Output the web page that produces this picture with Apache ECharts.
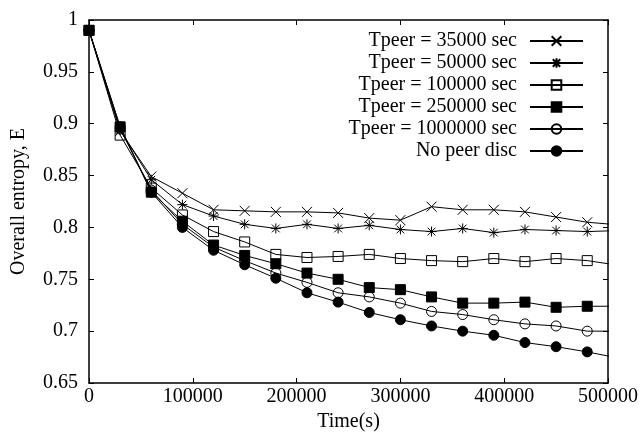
<!DOCTYPE html>
<html>
<head>
<meta charset="utf-8">
<script src="https://cdn.jsdelivr.net/npm/echarts@6/dist/echarts.min.js"></script>
<style>
  html, body { margin: 0; padding: 0; background: #fff; }
  #chart { width: 642px; height: 437px; }
</style>
</head>
<body>
<div id="chart"></div>
<script>
// Sample times (s); the last sample lies past the axis end and is clipped
const times = [0, 30000, 60000, 90000, 120000, 150000, 180000, 210000, 240000,
  270000, 300000, 330000, 360000, 390000, 420000, 450000, 480000, 510000];

const seriesNames = [
  'Tpeer = 35000 sec',
  'Tpeer = 50000 sec',
  'Tpeer = 100000 sec',
  'Tpeer = 250000 sec',
  'Tpeer = 1000000 sec',
  'No peer disc'
];

const tpeer35000 = [0.99, 0.893, 0.849, 0.833, 0.817, 0.816, 0.815, 0.815, 0.814,
  0.809, 0.807, 0.820, 0.817, 0.817, 0.815, 0.810, 0.805, 0.8025];
const tpeer50000 = [0.99, 0.894, 0.846, 0.822, 0.811, 0.803, 0.799, 0.803, 0.799,
  0.802, 0.798, 0.796, 0.799, 0.795, 0.798, 0.797, 0.796, 0.797];
const tpeer100000 = [0.99, 0.889, 0.838, 0.812, 0.796, 0.786, 0.774, 0.771, 0.772,
  0.774, 0.770, 0.768, 0.767, 0.770, 0.767, 0.770, 0.768, 0.7635];
const tpeer250000 = [0.99, 0.897, 0.834, 0.806, 0.783, 0.773, 0.765, 0.756, 0.750,
  0.742, 0.740, 0.733, 0.727, 0.727, 0.728, 0.723, 0.724, 0.724];
const tpeer1000000 = [0.99, 0.895, 0.836, 0.803, 0.781, 0.768, 0.756, 0.747, 0.737,
  0.733, 0.727, 0.719, 0.716, 0.711, 0.707, 0.705, 0.700, 0.700];
const noPeerDisc = [0.99, 0.897, 0.834, 0.800, 0.778, 0.764, 0.751, 0.737, 0.728,
  0.718, 0.711, 0.705, 0.700, 0.696, 0.689, 0.685, 0.680, 0.674];

const xTicks = [0, 100000, 200000, 300000, 400000, 500000];
const yTicks = [0.65, 0.7, 0.75, 0.8, 0.85, 0.9, 0.95, 1];

const FONT = '"Liberation Serif", "DejaVu Serif", "Times New Roman", serif';
const FONT_SIZE = 20;
const INK = '#000';

// Marker shapes (gnuplot-like point types)
const markers = [
  { symbol: 'path://M0,0L10,10M10,0L0,10', fill: 'transparent' },                       // x
  { symbol: 'path://M0,0L10,10M10,0L0,10M5,-1.5L5,11.5M-1.5,5L11.5,5', fill: 'transparent' }, // asterisk
  { symbol: 'rect', fill: 'transparent' },                                              // open square
  { symbol: 'rect', fill: INK },                                                        // filled square
  { symbol: 'circle', fill: 'transparent' },                                            // open circle
  { symbol: 'circle', fill: INK }                                                       // filled circle
];

const values = [tpeer35000, tpeer50000, tpeer100000, tpeer250000, tpeer1000000, noPeerDisc];

const series = values.map(function (vals, i) {
  return {
    name: seriesNames[i],
    type: 'line',
    xAxisIndex: 0,
    yAxisIndex: 0,
    data: times.map(function (t, k) { return [t, vals[k]]; }),
    symbol: markers[i].symbol,
    symbolSize: 10,
    showAllSymbol: true,
    clip: true,
    lineStyle: { color: INK, width: 1 },
    itemStyle: { color: markers[i].fill, borderColor: INK, borderWidth: 1, opacity: 1 },
    emphasis: { disabled: true },
    animation: false
  };
});

function tickAxisBase(extra) {
  return Object.assign({
    axisLine: { show: true, onZero: false, lineStyle: { color: INK, width: 1.5 } },
    axisTick: { show: true, inside: true, length: 5, lineStyle: { color: INK, width: 1 } },
    splitLine: { show: false }
  }, extra);
}

const chart = echarts.init(document.getElementById('chart'), null, { renderer: 'canvas' });

chart.setOption({
  backgroundColor: '#fff',
  animation: false,
  grid: { left: 89, right: 34, top: 20, bottom: 54, containLabel: false },
  legend: {
    orient: 'vertical',
    align: 'right',
    right: 53,
    top: 25,
    itemWidth: 53,
    itemHeight: 12,
    itemGap: 0,
    selectedMode: false,
    data: seriesNames,
    textStyle: { fontFamily: FONT, fontSize: FONT_SIZE, color: INK, lineHeight: 22, padding: [0, 8, 0, 0] }
  },
  xAxis: [
    tickAxisBase({
      type: 'value', position: 'bottom', min: 0, max: 500000, interval: 100000,
      name: 'Time(s)', nameLocation: 'middle', nameGap: 27,
      nameTextStyle: { fontFamily: FONT, fontSize: FONT_SIZE, color: INK },
      axisLabel: {
        fontFamily: FONT, fontSize: FONT_SIZE, color: INK, margin: 4,
        customValues: xTicks,
        formatter: function (v) { return String(v); }
      }
    }),
    tickAxisBase({
      type: 'value', position: 'top', min: 0, max: 500000, interval: 100000,
      axisLabel: { show: false }
    })
  ],
  yAxis: [
    tickAxisBase({
      type: 'value', position: 'left', min: 0.65, max: 1, interval: 0.05,
      name: 'Overall entropy, E', nameLocation: 'middle', nameGap: 60,
      nameTextStyle: { fontFamily: FONT, fontSize: FONT_SIZE, color: INK },
      axisLabel: {
        fontFamily: FONT, fontSize: FONT_SIZE, color: INK, margin: 11,
        customValues: yTicks,
        formatter: function (v) { return String(Math.round(v * 100) / 100); }
      }
    }),
    tickAxisBase({
      type: 'value', position: 'right', min: 0.65, max: 1, interval: 0.05,
      axisLabel: { show: false }
    })
  ],
  series: series
});
</script>
</body>
</html>
